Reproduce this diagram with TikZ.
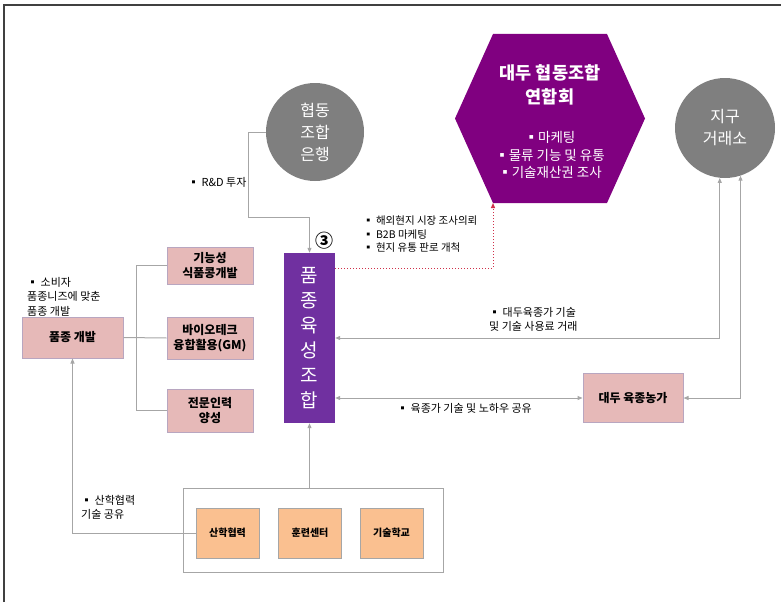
\documentclass[tikz,border=0pt]{standalone}
\usepackage{fontspec}
\setmainfont{Noto Sans CJK KR}
\usetikzlibrary{arrows.meta}
\definecolor{hexpurple}{HTML}{800080}
\definecolor{coopc}{HTML}{7030A0}
\definecolor{pinkc}{HTML}{E6B9B8}
\definecolor{pinkbd}{HTML}{B8A6C0}
\definecolor{orangec}{HTML}{FAC090}
\definecolor{grayc}{HTML}{7F7F7F}
\definecolor{linec}{HTML}{A6A6A6}
\definecolor{redc}{HTML}{D0304A}
\tikzset{
  pinkbox/.style={draw=pinkbd, fill=pinkc, line width=1pt, align=center, inner sep=0pt,
    font=\bfseries\fontsize{12}{15}\selectfont},
  orbox/.style={draw=linec, fill=orangec, line width=1pt, inner sep=0pt, minimum width=63pt, minimum height=50pt,
    font=\bfseries\fontsize{10}{12}\selectfont},
  gcirc/.style={circle, fill=grayc, text=white, align=center, inner sep=0pt,
    font=\fontsize{16}{22}\selectfont},
  gline/.style={draw=linec, line width=1pt},
  garrow/.style={gline, -{Triangle[length=5pt,width=4pt]}},
  dbl/.style={gline, {Triangle[length=5pt,width=4pt]}-{Triangle[length=5pt,width=4pt]}},
  lbl/.style={align=left, inner sep=0pt, font=\fontsize{11}{14.5}\selectfont},
}
\begin{document}
\begin{tikzpicture}[x=1pt,y=-1pt]
\useasboundingbox (0,0) rectangle (781,602);
% frame
\draw[color=black!75, line width=1.5pt] (4,602) -- (4,5) -- (781,5);

% hexagon
\fill[hexpurple] (493,34) -- (607,34) -- (645,118.5) -- (607,203) -- (493,203) -- (455,118.5) -- cycle;
\coordinate (hexbl) at (493,203);
\node[text=white, align=center, font=\bfseries\fontsize{17.5}{24}\selectfont] (hextitle) at (550,85) {대두 협동조합\\연합회};
\node[text=white, align=center, font=\fontsize{13.5}{17.5}\selectfont] (hexbul) at (550,155) {▪마케팅\\▪물류 기능 및 유통\\▪기술재산권 조사};

% circles
\node[gcirc, minimum size=98pt] (bank) at (315,132) {협동\\조합\\은행};
\node[gcirc, minimum size=100pt] (exch) at (725,128) {지구\\거래소};

% central purple
\node[fill=coopc, minimum width=51pt, minimum height=170pt, inner sep=0pt, text=white, align=center,
  font=\fontsize{19}{25}\selectfont] (coop) at (309.5,338) {품\\종\\육\\성\\조\\합};
\node[font=\bfseries\fontsize{18}{18}\selectfont, inner sep=0pt] (three) at (324,241) {③};

% farmer
\node[pinkbox, minimum width=100pt, minimum height=49pt] (farm) at (633,398) {대두 육종농가};

% left boxes
\node[pinkbox, minimum width=101pt, minimum height=41pt] (dev) at (72.5,337.5) {품종 개발};
\node[pinkbox, minimum width=86pt, minimum height=37pt] (f1) at (210,265.5) {기능성\\식품콩개발};
\node[pinkbox, minimum width=86pt, minimum height=42pt] (f2) at (210,338) {바이오테크\\융합활용(GM)};
\node[pinkbox, minimum width=86pt, minimum height=43pt] (f3) at (210,410.5) {전문인력\\양성};

% bottom container
\node[draw=linec, fill=white, line width=1pt, minimum width=260pt, minimum height=84pt, inner sep=0pt] (cont) at (313,530) {};
\node[orbox] (o1) at (227.5,533) {산학협력};
\node[orbox] (o2) at (310,533) {훈련센터};
\node[orbox] (o3) at (391.5,533) {기술학교};

% connectors
\draw[garrow] (bank.west) -- (248,132) -- (248,217) -| (coop.north);
\coordinate (r1) at (335,268);
\draw[redc, line width=1pt, dotted, -{Triangle[length=5pt,width=4pt]}] (r1) -| (hexbl);
\draw[dbl] (exch.-96) |- (coop.east);
\draw[dbl] (exch.-72.5) |- (farm.east);
\draw[dbl] (farm.west) -- (coop.east |- farm.west);
\draw[gline] (dev.east) -- (f2.west);
\draw[gline] (f1.west) -- ++(-30,0) coordinate (t1) -- (t1 |- f3.west) -- (f3.west);
\draw[garrow] (cont.north -| coop.south) -- (coop.south);
\draw[garrow] (o1.west) -| (dev.south);

% labels
\node[lbl, anchor=west] (l1) at (188,182) {▪ R\&D 투자};
\node[lbl, anchor=north west, font=\fontsize{10.5}{13.5}\selectfont] (l2) at (363,216) {▪ 해외현지 시장 조사의뢰\\▪ B2B 마케팅\\▪ 현지 유통 판로 개척};
\node[lbl, anchor=west] (l3) at (489,319.5) {▪ 대두육종가 기술\\및 기술 사용료 거래};
\node[lbl, anchor=west] (l4) at (397,408) {▪ 육종가 기술 및 노하우 공유};
\node[lbl, anchor=west] (l5) at (27,296.5) {▪ 소비자\\품종니즈에 맞춘\\품종 개발};
\node[lbl, anchor=west] (l6) at (81,507.5) {▪ 산학협력\\기술 공유};
\end{tikzpicture}
\end{document}
